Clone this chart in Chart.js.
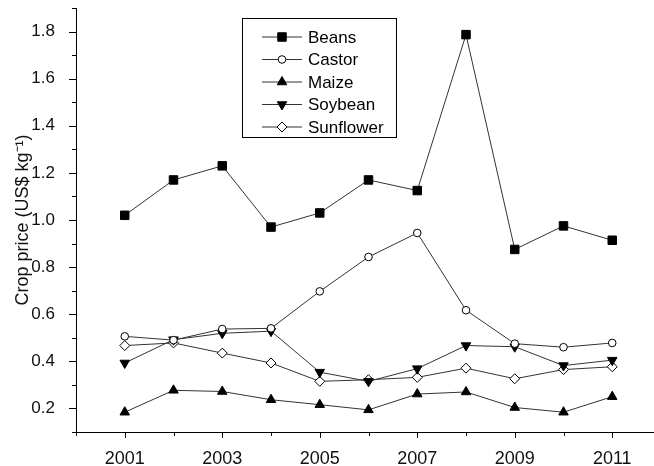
<!DOCTYPE html>
<html>
<head>
<meta charset="utf-8">
<script src="https://cdn.jsdelivr.net/npm/chart.js@4"></script>
<style>
  html, body { margin: 0; padding: 0; background: #fff; overflow: hidden; }
  #wrap { width: 668px; height: 466px; }
</style>
</head>
<body>
<div id="wrap"><canvas id="myChart" width="668" height="466"></canvas></div>
<script>
"use strict";
const years = [2001, 2002, 2003, 2004, 2005, 2006, 2007, 2008, 2009, 2010, 2011];
const beans = [1.02, 1.17, 1.23, 0.97, 1.03, 1.17, 1.125, 1.787, 0.875, 0.975, 0.914];
const castor = [0.506, 0.49, 0.537, 0.54, 0.697, 0.843, 0.945, 0.617, 0.475, 0.46, 0.478];
const maize = [0.184, 0.277, 0.272, 0.237, 0.216, 0.194, 0.261, 0.27, 0.204, 0.184, 0.25];
const soybean = [0.393, 0.492, 0.519, 0.528, 0.354, 0.315, 0.369, 0.467, 0.462, 0.382, 0.405];
const sunflower = [0.467, 0.478, 0.435, 0.393, 0.315, 0.322, 0.332, 0.371, 0.326, 0.365, 0.377];

const lineColor = "#333";
const font = "'Liberation Sans', Arial, sans-serif";

// marker looks for each series
const series = [
  { label: "Beans", data: beans, pointStyle: "rect", radius: 6, fill: "#000", rotation: 0 },
  { label: "Castor", data: castor, pointStyle: "circle", radius: 3.8, fill: "#fff", rotation: 0 },
  { label: "Maize", data: maize, pointStyle: "triangle", radius: 5.5, fill: "#000", rotation: 0 },
  { label: "Soybean", data: soybean, pointStyle: "triangle", radius: 5.5, fill: "#000", rotation: 180 },
  { label: "Sunflower", data: sunflower, pointStyle: "rectRot", radius: 5, fill: "#fff", rotation: 0 },
];

// outward tick marks, long for labelled ones, short for the rest
const tickPlugin = {
  id: "ticks",
  afterDraw(chart) {
    const ctx = chart.ctx;
    const xs = chart.scales.x;
    const ys = chart.scales.y;
    ctx.save();
    ctx.strokeStyle = "#000";
    ctx.lineWidth = 1;
    ctx.beginPath();
    ys.ticks.forEach((t) => {
      const py = Math.round(ys.getPixelForValue(t.value)) + 0.5;
      const major = Math.round(t.value * 10) % 2 === 0;
      const len = major ? 7 : 4;
      ctx.moveTo(ys.right, py);
      ctx.lineTo(ys.right - len, py);
    });
    xs.ticks.forEach((t) => {
      const px = Math.round(xs.getPixelForValue(t.value)) + 0.5;
      const major = t.value % 2 === 1;
      const len = major ? 6 : 4;
      ctx.moveTo(px, xs.top);
      ctx.lineTo(px, xs.top + len);
    });
    ctx.stroke();

    // legend box
    const bx = 242.5, by = 18.5, bw = 154, bh = 119;
    ctx.strokeRect(bx, by, bw, bh);
    ctx.font = "17px " + font;
    ctx.textBaseline = "middle";
    ctx.fillStyle = "#000";
    series.forEach((s, i) => {
      const ry = 37 + i * 22.5;
      ctx.strokeStyle = lineColor;
      ctx.beginPath();
      ctx.moveTo(262, ry);
      ctx.lineTo(302, ry);
      ctx.stroke();
      ctx.fillStyle = s.fill;
      ctx.strokeStyle = "#000";
      Chart.helpers.drawPoint(ctx, {
        pointStyle: s.pointStyle,
        radius: s.radius,
        rotation: s.rotation,
        borderWidth: 1,
      }, 282, ry);
      ctx.fillStyle = "#000";
      ctx.fillText(s.label, 308, ry + 1);
    });
    ctx.restore();
  },
};

const ctx = document.getElementById("myChart");
const myChart = new Chart(ctx, {
  type: "line",
  data: {
    labels: years,
    datasets: series.map((s) => ({
      label: s.label,
      data: s.data,
      borderColor: lineColor,
      borderWidth: 1,
      tension: 0,
      pointStyle: s.pointStyle,
      pointRadius: s.radius,
      pointRotation: s.rotation,
      pointBackgroundColor: s.fill,
      pointBorderColor: "#000",
      pointBorderWidth: 1,
    })),
  },
  options: {
    responsive: false,
    animation: false,
    layout: { padding: { top: 8, right: 0, left: 0, bottom: 0 } },
    plugins: {
      legend: { display: false },
      tooltip: { enabled: false },
    },
    scales: {
      x: {
        type: "linear",
        min: 2000,
        max: 2012,
        grid: { display: false },
        border: { display: true, color: "#000", width: 1 },
        ticks: {
          stepSize: 1,
          autoSkip: false,
          maxRotation: 0,
          padding: 8,
          color: "#111",
          font: { family: font, size: 18 },
          callback: (v) => (v % 2 === 1 ? String(v) : ""),
        },
        afterFit: (scale) => {
          scale.height = 34;
          scale.paddingLeft = 0;
          scale.paddingRight = 0;
        },
      },
      y: {
        min: 0.1,
        max: 1.9,
        grid: { display: false },
        border: { display: true, color: "#000", width: 1 },
        ticks: {
          stepSize: 0.1,
          autoSkip: false,
          padding: 13,
          color: "#111",
          font: { family: font, size: 17 },
          callback: (v) => (Math.round(v * 10) % 2 === 0 ? v.toFixed(1) : ""),
        },
        title: {
          display: true,
          text: "Crop price (US$ kg\u207B\u00B9)",
          color: "#111",
          font: { family: font, size: 18 },
          padding: { top: 12, bottom: 0 },
        },
        afterFit: (scale) => {
          scale.width = 76;
          scale.paddingTop = 0;
          scale.paddingBottom = 0;
        },
      },
    },
  },
  plugins: [tickPlugin],
});
</script>
</body>
</html>
